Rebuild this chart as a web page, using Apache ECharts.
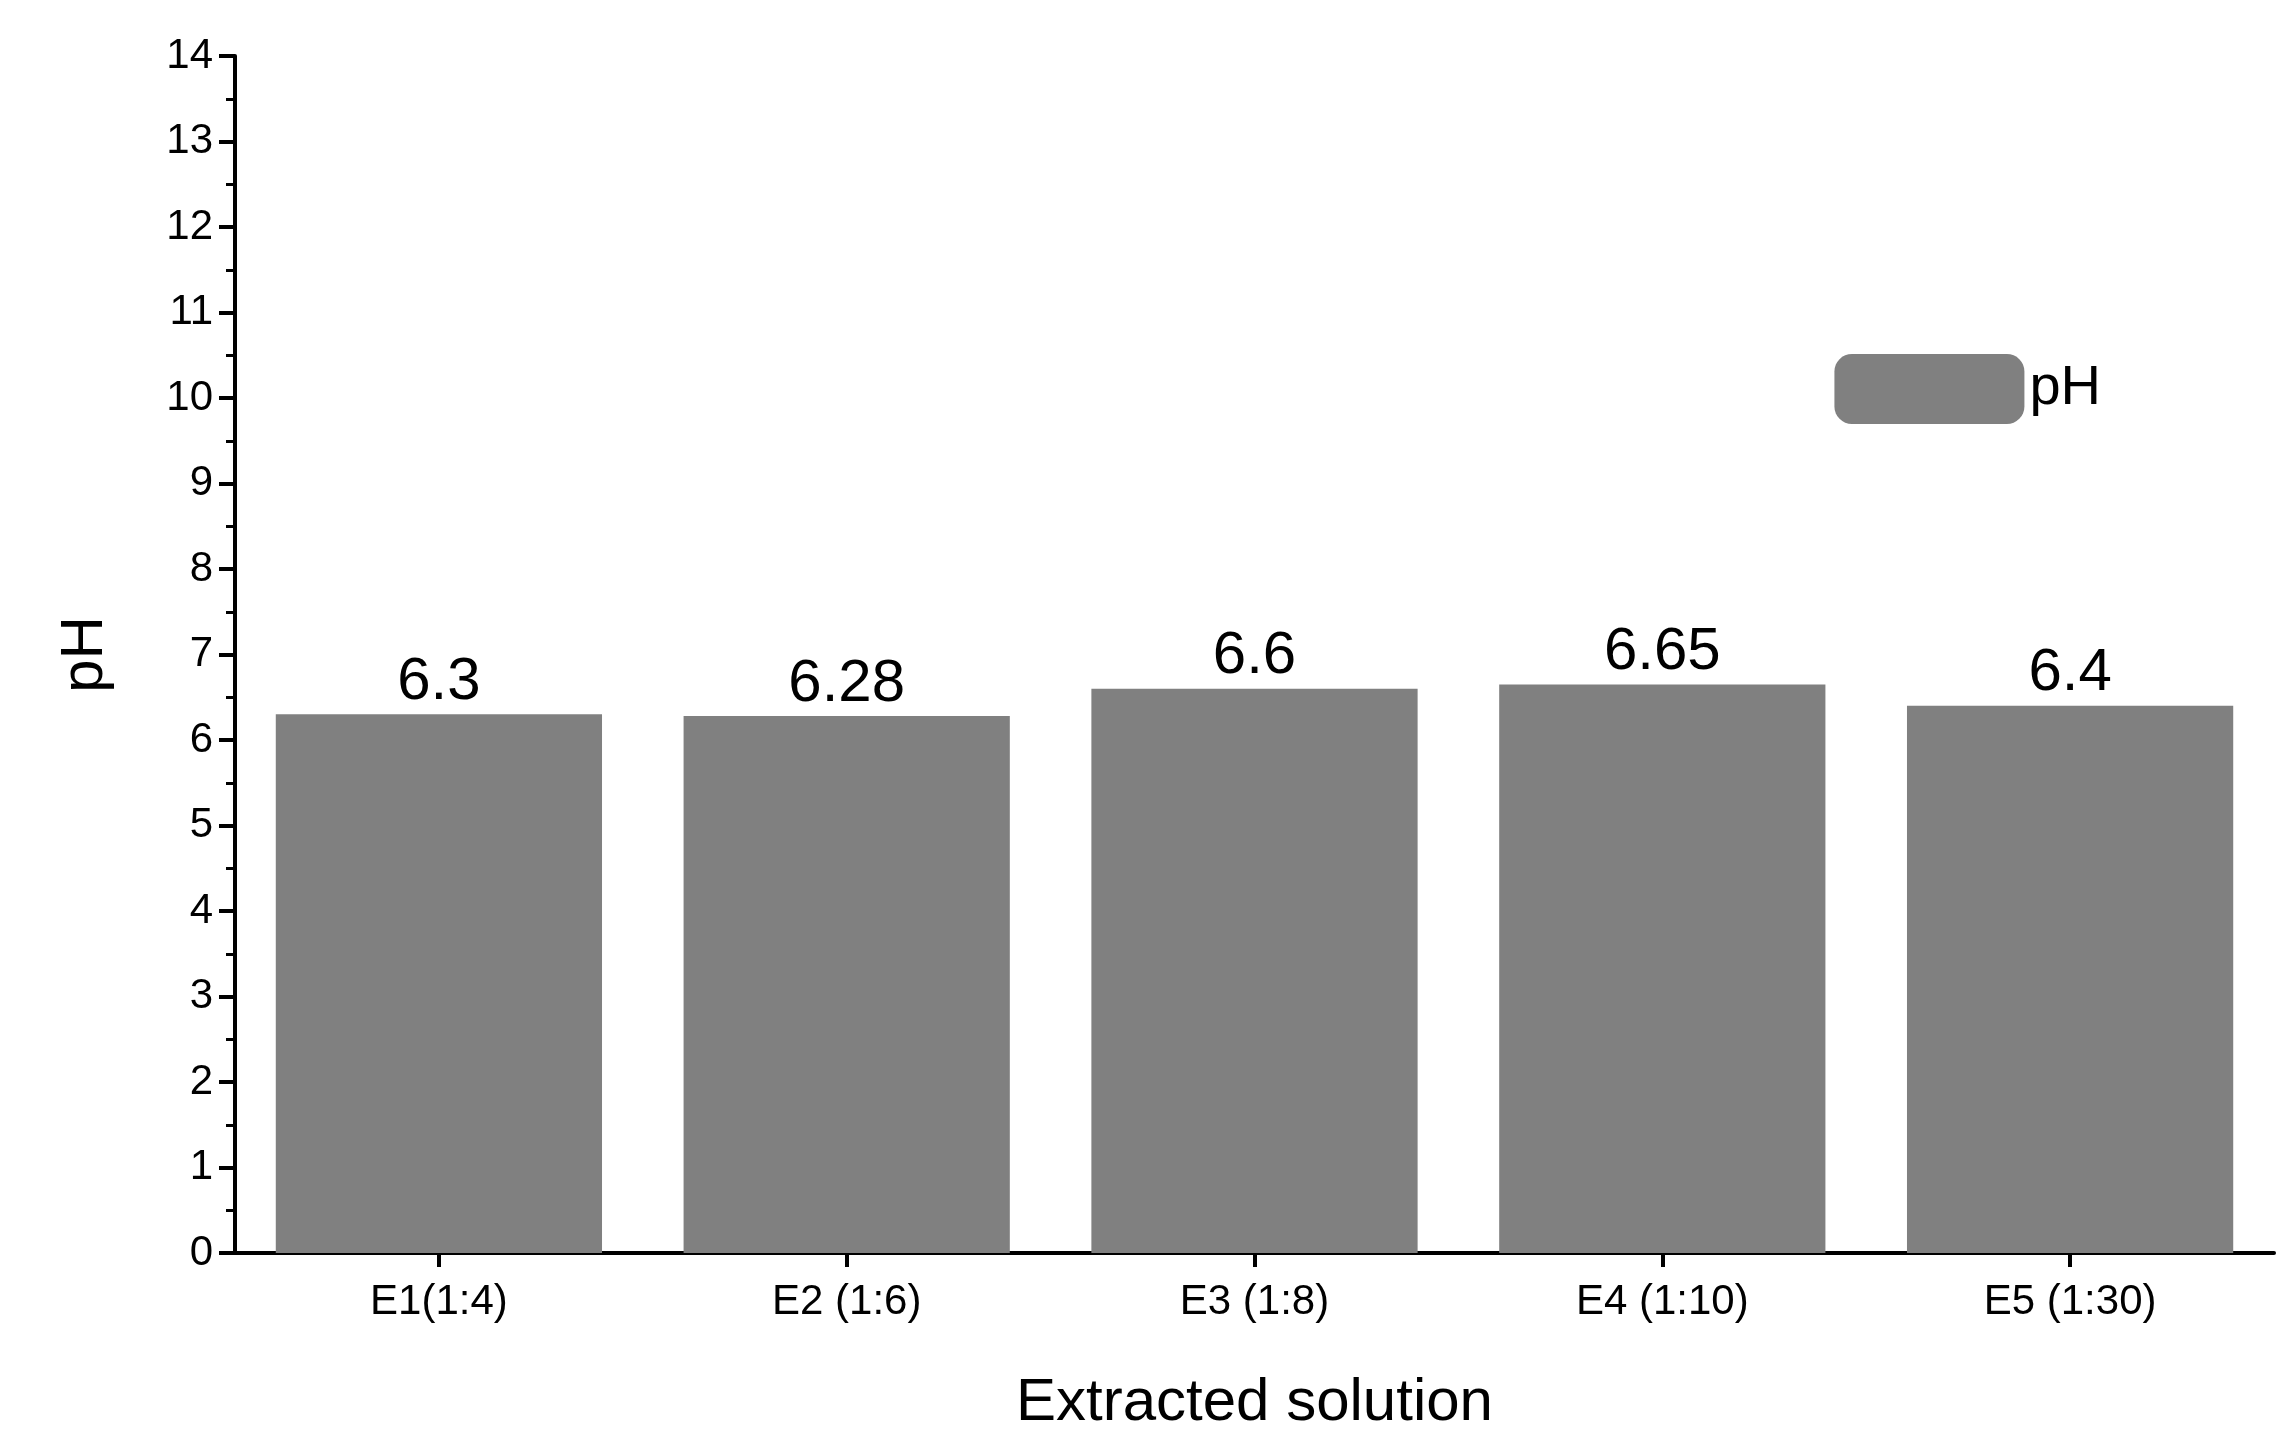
<!DOCTYPE html>
<html>
<head>
<meta charset="utf-8">
<script src="https://cdn.jsdelivr.net/npm/echarts@6/dist/echarts.min.js"></script>
<style>html,body{margin:0;background:#fff}#main{width:2296px;height:1445px}</style>
</head>
<body>
<div id="main"></div>
<script>
// bar chart of pH per extracted solution
const categories = ['E1(1:4)', 'E2 (1:6)', 'E3 (1:8)', 'E4 (1:10)', 'E5 (1:30)'];
const phValues = [6.3, 6.28, 6.6, 6.65, 6.4];

const chart = echarts.init(document.getElementById('main'));
const font = 'Liberation Sans, Arial, sans-serif';
chart.setOption({
    animation: false,
    grid: { left: 235, right: 22, top: 56, bottom: 192 },
    legend: {
        right: 190, top: 349, itemWidth: 190, itemHeight: 70, itemGap: 20,
        textStyle: { fontFamily: font, fontSize: 56, color: '#000' },
        data: ['pH']
    },
    xAxis: {
        type: 'category', data: categories,
        name: 'Extracted solution', nameLocation: 'middle', nameGap: 120,
        nameTextStyle: { fontFamily: font, fontSize: 60, color: '#000' },
        axisLine: { lineStyle: { color: '#000', width: 4 } },
        axisTick: { show: true, alignWithLabel: true, inside: false, length: 14, lineStyle: { width: 4, color: '#000' } },
        axisLabel: { fontFamily: font, fontSize: 42, color: '#000', margin: 28 }
    },
    yAxis: {
        type: 'value', min: 0, max: 14, interval: 1,
        name: 'pH', nameLocation: 'middle', nameGap: 120,
        nameTextStyle: { fontFamily: font, fontSize: 60, color: '#000' },
        axisLine: { show: true, lineStyle: { color: '#000', width: 4 } },
        axisTick: { show: true, length: 16, lineStyle: { width: 4, color: '#000' } },
        minorTick: { show: true, splitNumber: 2, length: 9, lineStyle: { width: 3, color: '#000' } },
        splitLine: { show: false },
        axisLabel: { fontFamily: font, fontSize: 42, color: '#000', margin: 22 }
    },
    series: [{
        name: 'pH', type: 'bar', data: phValues, barWidth: '80%',
        itemStyle: { color: '#808080' },
        label: { show: true, position: 'top', fontFamily: font, fontSize: 60, color: '#000', distance: 2 }
    }]
});
</script>
</body>
</html>
